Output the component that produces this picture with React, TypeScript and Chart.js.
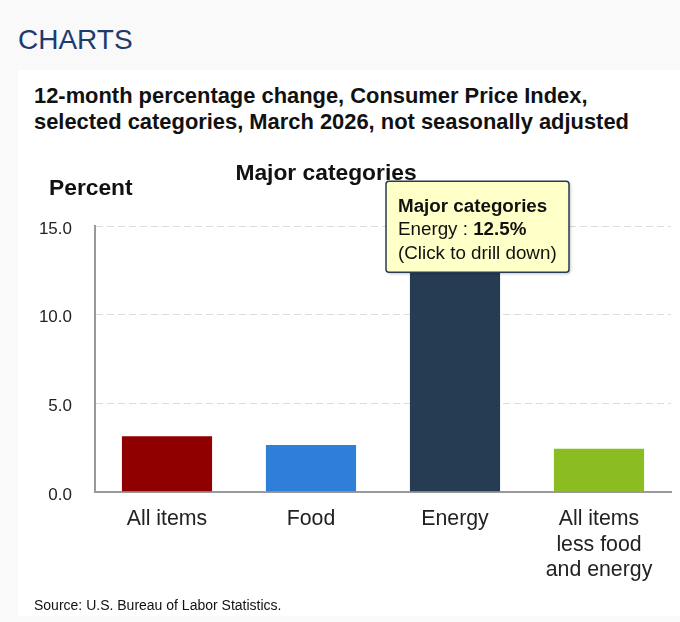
import React, { useEffect, useRef } from "react";
import { Chart, registerables } from "chart.js";

Chart.register(...registerables);

const pageHeader = "CHARTS";
const chartTitleLines = [
  "12-month percentage change, Consumer Price Index,",
  "selected categories, March 2026, not seasonally adjusted",
];
const seriesName = "Major categories";
const yAxisTitle = "Percent";
const sourceNote = "Source: U.S. Bureau of Labor Statistics.";

const categories: string[][] = [
  ["All items"],
  ["Food"],
  ["Energy"],
  ["All items", "less food", "and energy"],
];
const categoryNames = ["All items", "Food", "Energy", "All items less food and energy"];
const values = [3.2, 2.7, 12.5, 2.5];
const barColors = ["#910000", "#2f7ed8", "#263c53", "#8bbc21"];
const yTicks = [0, 5, 10, 15];
const tooltipIndex = 2;
const tooltipNote = "(Click to drill down)";

const FONT = '"Liberation Sans", Arial, Helvetica, sans-serif';

export default function App() {
  const canvasRef = useRef<HTMLCanvasElement | null>(null);

  useEffect(() => {
    const canvas = canvasRef.current;
    if (!canvas) return;

    const overlay = {
      id: "overlayText",
      afterDraw(chart: any) {
        const ctx = chart.ctx as CanvasRenderingContext2D;
        ctx.save();
        ctx.fillStyle = "#111";
        ctx.textBaseline = "alphabetic";
        ctx.font = `bold 22.8px ${FONT}`;
        ctx.textAlign = "left";
        ctx.fillText(yAxisTitle, 31, 55);
        ctx.textAlign = "center";
        ctx.fillText(seriesName, 308, 40);

        // tooltip
        const el = chart.getDatasetMeta(0).data[tooltipIndex];
        const bx = el.x;
        const by = el.y;
        const left = bx - 69;
        const top = by - 89;
        const w = 183;
        const h = 91;
        const r = 3;
        ctx.beginPath();
        ctx.moveTo(left + r, top);
        ctx.lineTo(left + w - r, top);
        ctx.quadraticCurveTo(left + w, top, left + w, top + r);
        ctx.lineTo(left + w, top + h - r);
        ctx.quadraticCurveTo(left + w, top + h, left + w - r, top + h);
        ctx.lineTo(left + r, top + h);
        ctx.quadraticCurveTo(left, top + h, left, top + h - r);
        ctx.lineTo(left, top + r);
        ctx.quadraticCurveTo(left, top, left + r, top);
        ctx.closePath();
        ctx.shadowColor = "rgba(0,0,0,0.25)";
        ctx.shadowOffsetX = 1.5;
        ctx.shadowOffsetY = 1.5;
        ctx.shadowBlur = 3;
        ctx.fillStyle = "#ffffc8";
        ctx.fill();
        ctx.shadowColor = "transparent";
        ctx.lineWidth = 1.5;
        ctx.strokeStyle = "#263c53";
        ctx.stroke();

        ctx.textAlign = "left";
        ctx.fillStyle = "#111";
        const tx = left + 12;
        ctx.font = `bold 18.8px ${FONT}`;
        ctx.fillText(seriesName, tx, top + 30.5);
        ctx.font = `18.8px ${FONT}`;
        const pre = `${categoryNames[tooltipIndex]} : `;
        ctx.fillText(pre, tx, top + 54);
        const pw = ctx.measureText(pre).width;
        ctx.font = `bold 18.8px ${FONT}`;
        ctx.fillText(`${values[tooltipIndex].toFixed(1)}%`, tx + pw, top + 54);
        ctx.font = `18.8px ${FONT}`;
        ctx.fillText(tooltipNote, tx, top + 77.5);
        ctx.restore();
      },
    };

    const chart = new Chart(canvas, {
      type: "bar",
      data: {
        labels: categories,
        datasets: [
          {
            label: seriesName,
            data: values,
            backgroundColor: barColors,
            borderColor: "rgba(255,255,255,0.45)",
            borderWidth: 1,
            categoryPercentage: 0.64,
            barPercentage: 1,
          },
        ],
      },
      options: {
        responsive: false,
        animation: false,
        events: [],
        layout: { padding: { top: 86, right: 9, left: 0, bottom: 0 } },
        plugins: {
          legend: { display: false },
          tooltip: { enabled: false },
          title: { display: false },
        },
        scales: {
          x: {
            grid: { display: false },
            border: { display: true, color: "#999", width: 2 },
            ticks: {
              color: "#222",
              font: { family: FONT, size: 21.3, lineHeight: 1.21 },
              padding: 6,
              maxRotation: 0,
              autoSkip: false,
            },
            afterFit: (s: any) => {
              s.height = 108;
            },
          },
          y: {
            min: 0,
            max: 15,
            afterBuildTicks: (s: any) => {
              s.ticks = yTicks.map((v) => ({ value: v }));
            },
            ticks: {
              color: "#222",
              font: { family: FONT, size: 17 },
              padding: 23,
              labelOffset: 3,
              callback: (v: any) => Number(v).toFixed(1),
            },
            grid: { color: "#dcdcdc", lineWidth: 1, drawTicks: false },
            border: { display: true, color: "#999", width: 2, dash: [7, 4] },
            afterFit: (s: any) => {
              s.width = 77;
            },
          },
        },
      },
      plugins: [overlay],
    });

    return () => chart.destroy();
  }, []);

  return (
    <div
      style={{
        position: "fixed",
        left: 0,
        top: 0,
        width: 680,
        height: 622,
        background: "#f9f9f9",
        fontFamily: FONT,
        overflow: "hidden",
      }}
    >
      <div
        style={{
          position: "absolute",
          left: 18,
          top: 26,
          fontSize: 28,
          lineHeight: "28px",
          color: "#1f3a6e",
          whiteSpace: "nowrap",
        }}
      >
        {pageHeader}
      </div>
      <div
        style={{
          position: "absolute",
          left: 18,
          top: 70,
          width: 662,
          height: 546,
          background: "#ffffff",
        }}
      />
      <div
        style={{
          position: "absolute",
          left: 34,
          top: 82.5,
          fontSize: 21.9,
          lineHeight: "26px",
          fontWeight: "bold",
          color: "#111",
          whiteSpace: "nowrap",
        }}
      >
        {chartTitleLines.map((l, i) => (
          <div key={i}>{l}</div>
        ))}
      </div>
      <div style={{ position: "absolute", left: 18, top: 140, width: 662, height: 460 }}>
        <canvas ref={canvasRef} width={662} height={460} style={{ width: 662, height: 460 }} />
      </div>
      <div
        style={{
          position: "absolute",
          left: 34,
          top: 598,
          fontSize: 14,
          lineHeight: "14px",
          color: "#111",
          whiteSpace: "nowrap",
        }}
      >
        {sourceNote}
      </div>
    </div>
  );
}
